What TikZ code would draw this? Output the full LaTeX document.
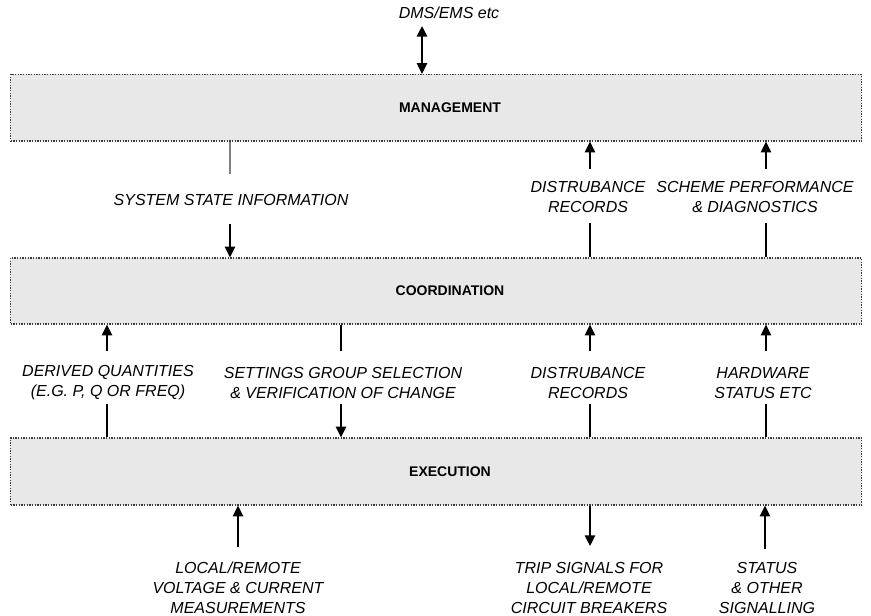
\documentclass[tikz,border=0pt]{standalone}
\usepackage{fontspec}
\setmainfont{Liberation Sans}
\usetikzlibrary{arrows.meta}
\definecolor{layerfill}{HTML}{E8E8E8}
\definecolor{layeredge}{HTML}{3A3A3A}
\begin{document}
\begin{tikzpicture}[x=0.75pt,y=-0.75pt,
  layer/.style={draw=layeredge, densely dotted, line width=1pt, fill=layerfill,
    minimum width=638.25pt, inner sep=0pt},
  layername/.style={font=\bfseries\fontsize{10.5}{12}\selectfont, inner sep=0pt},
  caption/.style={font=\itshape\fontsize{12}{15}\selectfont, align=center, inner sep=0pt},
  tip/.tip={Triangle[length=8pt,width=7.8pt]},
  flow/.style={line width=1pt, -tip},
  twoway/.style={line width=1pt, tip-tip},
  tie/.style={line width=1pt},
]
\useasboundingbox (0,0) rectangle (871,616);

% the three layers
\node[layer, minimum height=49.875pt] (mgmt)  at (436,107.75) {};
\node[layer, minimum height=49.5pt]   (coord) at (436,291) {};
\node[layer, minimum height=50.25pt]  (exec)  at (436,471.5) {};
\node[layername] (mgmtname)  at (450,108)   {MANAGEMENT};
\node[layername] (coordname) at (450,291)   {COORDINATION};
\node[layername] (execname)  at (450,471.5) {EXECUTION};

% link to the control centre
\node[caption] (dms) at (449,13) {DMS/EMS etc};
\coordinate (dmsEnd) at (422,26);
\draw[twoway] (dmsEnd) -- (dmsEnd |- mgmt.north);

% management <-> coordination
\coordinate (ssTop) at (230,174);
\draw[tie, gray] (ssTop |- mgmt.south) -- (ssTop);
\node[caption] (ss) at (231,200) {SYSTEM STATE INFORMATION};
\coordinate (ssBot) at (230,224);
\draw[flow] (ssBot) -- (ssBot |- coord.north);

\node[caption] (drA) at (588,197) {DISTRUBANCE\\RECORDS};
\coordinate (drAUp) at (590,169);
\draw[flow] (drAUp) -- (drAUp |- mgmt.south);
\coordinate (drADn) at (590,223);
\draw[tie] (drADn) -- (drADn |- coord.north);

\node[caption] (sp) at (755,197) {SCHEME PERFORMANCE\\\& DIAGNOSTICS};
\coordinate (spUp) at (766,169);
\draw[flow] (spUp) -- (spUp |- mgmt.south);
\coordinate (spDn) at (766,223);
\draw[tie] (spDn) -- (spDn |- coord.north);

% coordination <-> execution
\node[caption] (dq) at (108,383) {DERIVED QUANTITIES\\(E.G. P, Q OR FREQ)};
\coordinate (dqUp) at (107,351);
\draw[flow] (dqUp) -- (dqUp |- coord.south);
\coordinate (dqDn) at (107,404);
\draw[tie] (dqDn) -- (dqDn |- exec.north);

\node[caption] (sg) at (343,383) {SETTINGS GROUP SELECTION\\\& VERIFICATION OF CHANGE};
\coordinate (sgUp) at (341,351);
\draw[tie] (sgUp |- coord.south) -- (sgUp);
\coordinate (sgDn) at (341,404);
\draw[flow] (sgDn) -- (sgDn |- exec.north);

\node[caption] (drB) at (588,383) {DISTRUBANCE\\RECORDS};
\coordinate (drBUp) at (590,351);
\draw[flow] (drBUp) -- (drBUp |- coord.south);
\coordinate (drBDn) at (590,404);
\draw[tie] (drBDn) -- (drBDn |- exec.north);

\node[caption] (hw) at (763,383) {HARDWARE\\STATUS ETC};
\coordinate (hwUp) at (766,351);
\draw[flow] (hwUp) -- (hwUp |- coord.south);
\coordinate (hwDn) at (766,404);
\draw[tie] (hwDn) -- (hwDn |- exec.north);

% execution <-> plant
\node[caption] (meas) at (238,588) {LOCAL/REMOTE\\VOLTAGE \& CURRENT\\MEASUREMENTS};
\coordinate (measEnd) at (238,547);
\draw[flow] (measEnd) -- (measEnd |- exec.south);

\node[caption] (trip) at (589,588) {TRIP SIGNALS FOR\\LOCAL/REMOTE\\CIRCUIT BREAKERS};
\coordinate (tripEnd) at (590,546);
\draw[flow] (tripEnd |- exec.south) -- (tripEnd);

\node[caption] (st) at (767,588) {STATUS\\\& OTHER\\SIGNALLING};
\coordinate (stEnd) at (765,549);
\draw[flow] (stEnd) -- (stEnd |- exec.south);
\end{tikzpicture}
\end{document}
